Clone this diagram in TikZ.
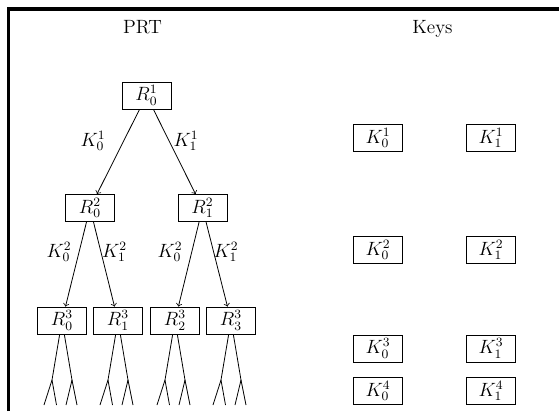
\documentclass[tikz,border=0pt]{standalone}
\begin{document}
\begin{tikzpicture}[x=0.625pt,y=-0.625pt,
  every node/.style={font=\large},
  box/.style={draw, line width=0.5pt, minimum width=30.6pt, minimum height=16.9pt, inner sep=0pt},
  lab/.style={inner sep=0pt},
  title/.style={anchor=base, inner sep=0pt},
  arr/.style={->, line width=0.5pt},
  leaf/.style={line width=0.5pt},
  frame/.style={line width=1.9pt}]
\useasboundingbox (0,0) rectangle (559,411);
\draw[frame] (8.5,411) -- (8.5,9) -- (559,9);
% titles
\node[title] (prt) at (142.5,33) {PRT};
\node[title] (keys) at (432.5,33) {Keys};
% PRT tree
\node[box] (R01) at (146.5,95.5) {$R_0^1$};
\node[box] (R02) at (90,208) {$R_0^2$};
\node[box] (R12) at (202.5,208) {$R_1^2$};
\node[box] (R03) at (62,320.5) {$R_0^3$};
\node[box] (R13) at (118,320.5) {$R_1^3$};
\node[box] (R23) at (175,320.5) {$R_2^3$};
\node[box] (R33) at (231,320.5) {$R_3^3$};
\draw[arr] (R01) -- (R02);
\draw[arr] (R01) -- (R12);
\draw[arr] (R02) -- (R03);
\draw[arr] (R02) -- (R13);
\draw[arr] (R12) -- (R23);
\draw[arr] (R12) -- (R33);
% edge labels
\node[lab] (l1a) at (93,141) {$K_0^1$};
\node[lab] (l1b) at (186,141) {$K_1^1$};
\node[lab] (l2a) at (59,252) {$K_0^2$};
\node[lab] (l2b) at (114.5,252) {$K_1^2$};
\node[lab] (l2c) at (170,252) {$K_0^2$};
\node[lab] (l2d) at (226,252) {$K_1^2$};
% leaves
\foreach \n/\x in {R03/62, R13/118, R23/175, R33/231} {
  \coordinate (\n-fl) at (\x-10,380);
  \coordinate (\n-fr) at (\x+10,380);
  \coordinate (\n-a) at (\x-18,405);
  \coordinate (\n-b) at (\x-5.5,405);
  \coordinate (\n-c) at (\x+4,405);
  \coordinate (\n-d) at (\x+15,405);
  \draw[leaf] (\n) -- (\n-fl);
  \draw[leaf] (\n) -- (\n-fr);
  \draw[leaf] (\n-fl) -- (\n-a);
  \draw[leaf] (\n-fl) -- (\n-b);
  \draw[leaf] (\n-fr) -- (\n-c);
  \draw[leaf] (\n-fr) -- (\n-d);
}
% keys
\node[box] (K01) at (378,138) {$K_0^1$};
\node[box] (K11) at (491,138) {$K_1^1$};
\node[box] (K02) at (378,250) {$K_0^2$};
\node[box] (K12) at (491,250) {$K_1^2$};
\node[box] (K03) at (378,348.5) {$K_0^3$};
\node[box] (K13) at (491,348.5) {$K_1^3$};
\node[box] (K04) at (378,391) {$K_0^4$};
\node[box] (K14) at (491,391) {$K_1^4$};
\end{tikzpicture}
\end{document}
